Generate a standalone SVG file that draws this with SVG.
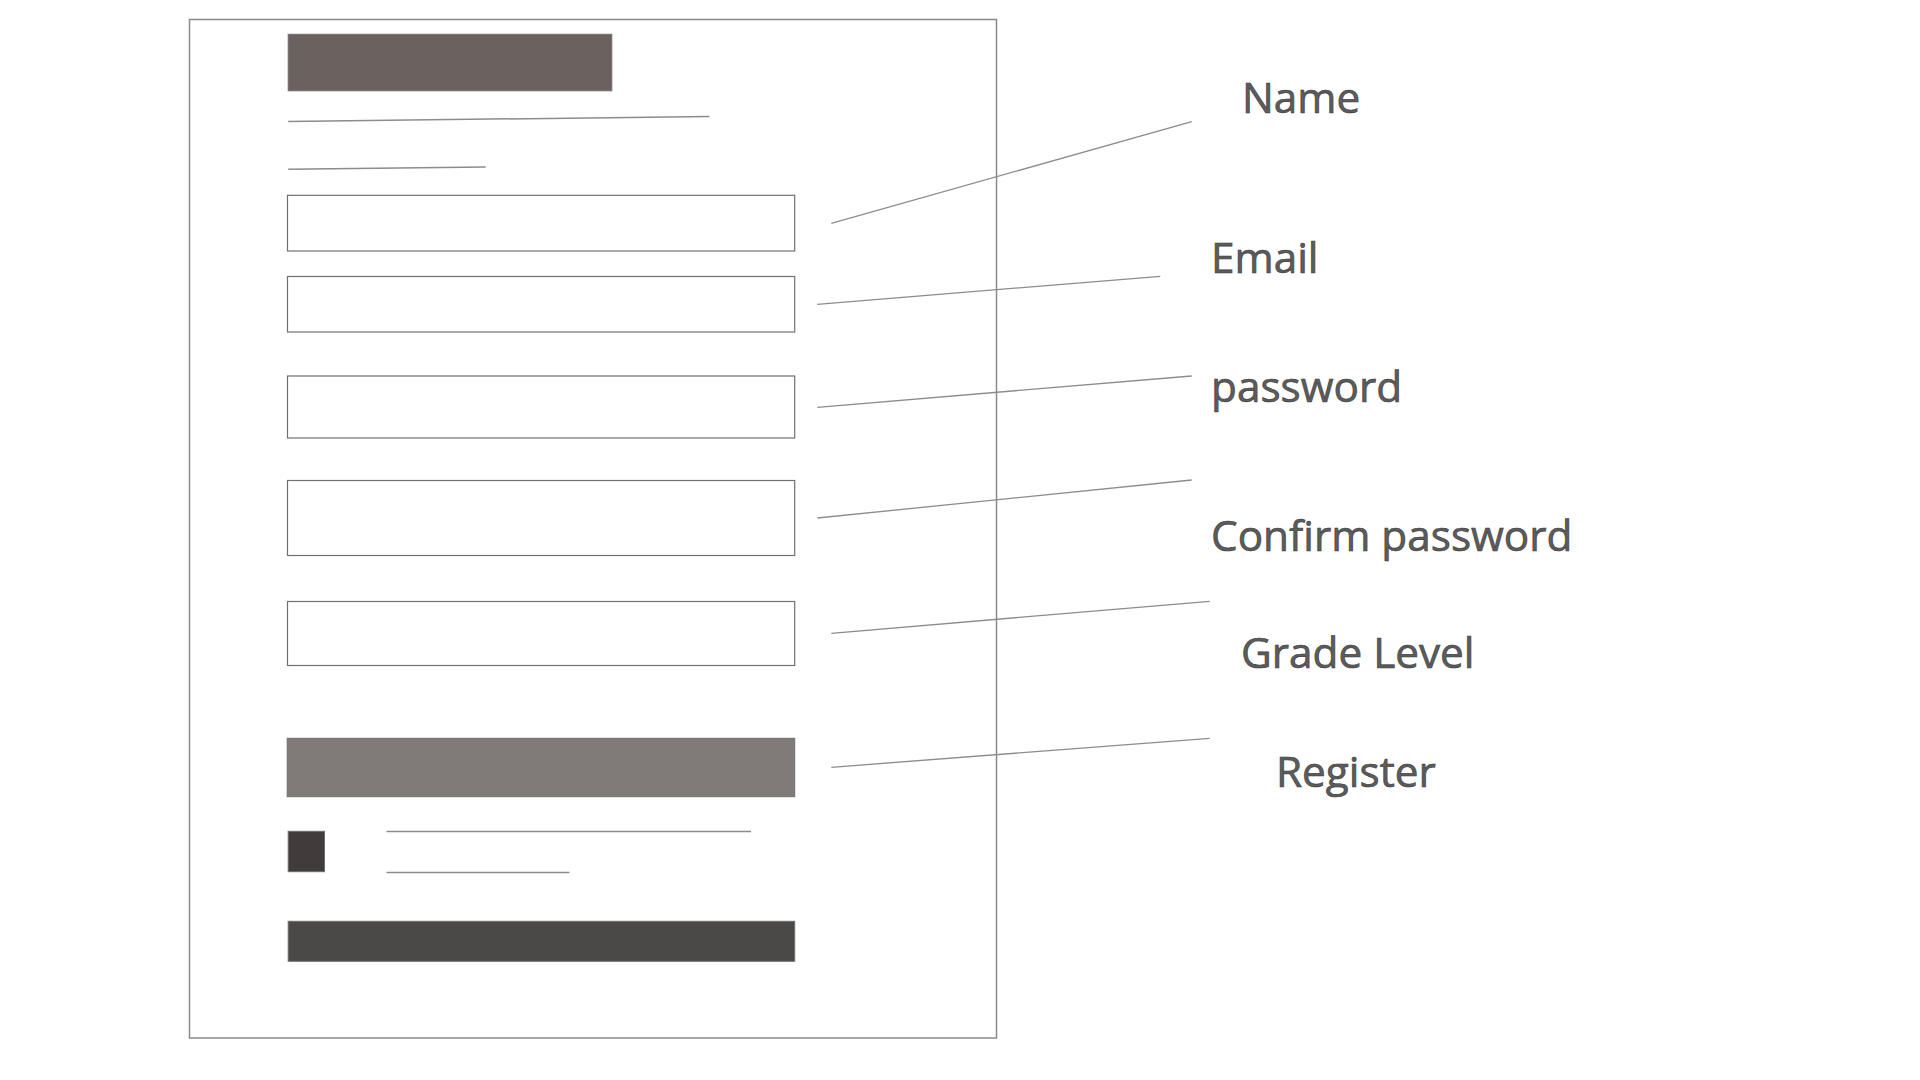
<svg xmlns="http://www.w3.org/2000/svg" width="1920" height="1080" viewBox="0 0 1920 1080">
<style>
.frame{fill:#ffffff;stroke:#8a8a8a;stroke-width:1.5}
.field{fill:#ffffff;stroke:#707070;stroke-width:1.2}
.rule{stroke:#8c8c8c;stroke-width:1.5;fill:none}
.conn{stroke:#8c8c8c;stroke-width:1.3;fill:none}
.lbl{font-family:"Open Sans","Noto Sans","DejaVu Sans",sans-serif;font-size:42.3px;fill:#5c5c5c;stroke:#3a3a3a;stroke-width:0.6}
</style>
<rect width="1920" height="1080" fill="#ffffff"/>
<g id="page">
<rect class="frame" x="189.5" y="19.5" width="807" height="1018.5"/>
</g>
<g id="title"><rect x="288.2" y="34.3" width="323.6" height="56.5" fill="#6b6260" stroke="#707070" stroke-width="1"/></g>
<g id="subtitle-lines">
<line class="rule" x1="288.2" y1="121.5" x2="709.4" y2="116.5"/>
<line class="rule" x1="288.2" y1="169.3" x2="485.7" y2="167"/>
</g>
<g id="field-name"><rect class="field" x="287.5" y="195.3" width="507.2" height="55.7"/></g>
<g id="field-email"><rect class="field" x="287.5" y="276.5" width="507.2" height="55.5"/></g>
<g id="field-password"><rect class="field" x="287.5" y="376" width="507.2" height="62"/></g>
<g id="field-confirm"><rect class="field" x="287.5" y="480.5" width="507.2" height="75"/></g>
<g id="field-grade"><rect class="field" x="287.5" y="601.5" width="507.2" height="64"/></g>
<g id="btn-register"><rect x="287.2" y="738.3" width="507.5" height="58.4" fill="#807a79" stroke="#6e6e6e" stroke-width="1"/></g>
<g id="checkbox"><rect x="288.2" y="831.3" width="36.3" height="40.4" fill="#413b3b" stroke="#6e6e6e" stroke-width="1"/></g>
<g id="checkbox-text">
<line class="rule" x1="386.5" y1="831.5" x2="751" y2="831.5"/>
<line class="rule" x1="386.5" y1="872.5" x2="569.4" y2="872.5"/>
</g>
<g id="btn-bottom"><rect x="288.2" y="921.3" width="506.5" height="40" fill="#4a4947" stroke="#6e6e6e" stroke-width="1"/></g>
<g id="connectors">
<line class="conn" x1="831.3" y1="223.3" x2="1191.7" y2="121.7"/>
<line class="conn" x1="817.3" y1="304.3" x2="1160.3" y2="276.3"/>
<line class="conn" x1="817.3" y1="407.3" x2="1191.7" y2="376"/>
<line class="conn" x1="817.3" y1="518" x2="1191.7" y2="480"/>
<line class="conn" x1="831.3" y1="633.3" x2="1209.7" y2="601.3"/>
<line class="conn" x1="831.3" y1="767.3" x2="1209.7" y2="738.3"/>
</g>
<g id="label-name"><text class="lbl" x="1242" y="112.7">Name</text></g>
<g id="label-email"><text class="lbl" x="1211" y="273.3">Email</text></g>
<g id="label-password"><text class="lbl" x="1211" y="401.7">password</text></g>
<g id="label-confirm"><text class="lbl" x="1211" y="550.7">Confirm password</text></g>
<g id="label-grade"><text class="lbl" x="1241" y="668.3">Grade Level</text></g>
<g id="label-register"><text class="lbl" x="1276" y="787.3">Register</text></g>
</svg>
